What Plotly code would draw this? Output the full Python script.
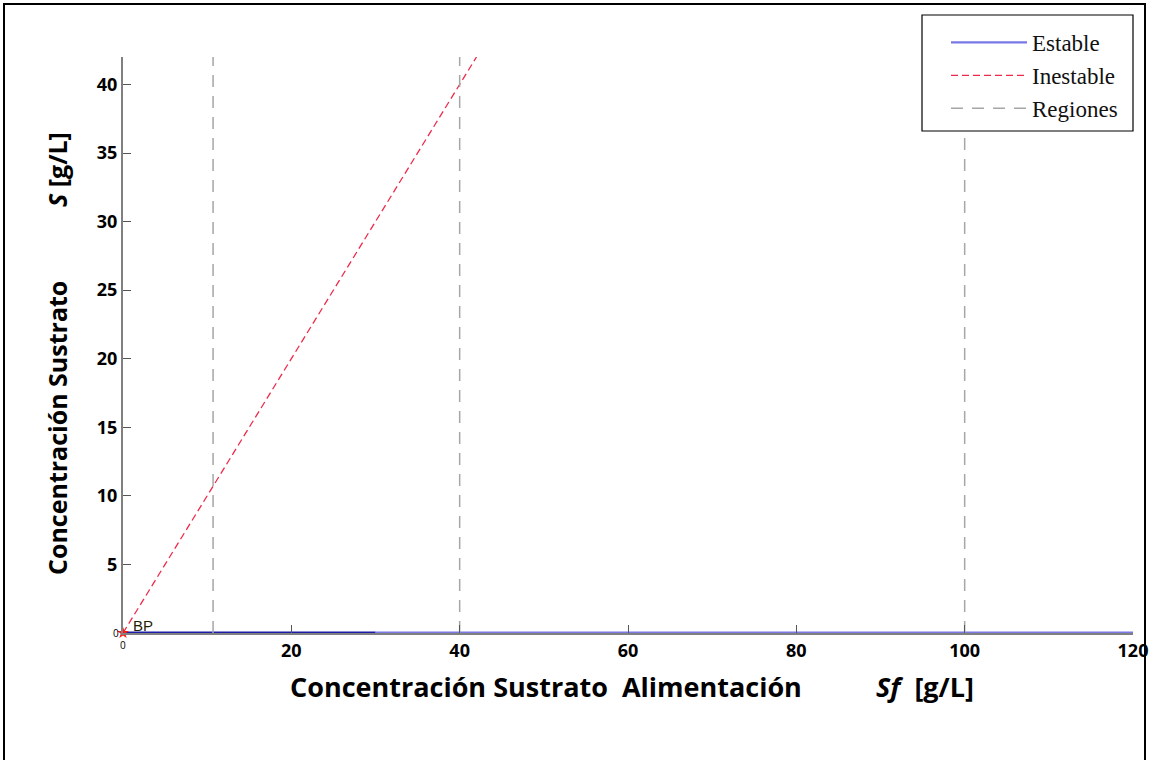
import plotly.graph_objects as go

# ---- data ----
sf_estable_a = [0, 30]
s_estable_a = [0.03, 0.03]
sf_estable_b = [30, 120]
s_estable_b = [0.03, 0.03]
sf_inestable = [0, 42]
s_inestable = [0, 42]
regiones_x = [10.7, 40, 100]
region_y = [0, 42]
bp_x = [0]
bp_y = [0]
x_ticks = [20, 40, 60, 80, 100, 120]
y_ticks = [5, 10, 15, 20, 25, 30, 35, 40]

W, H = 1152, 760
L, R, T = 123, 1133, 57
B = 633
PW, PH = R - L, B - T


def px(xp):
    return (xp - L) / PW


def py(yp):
    return (B - yp) / PH


fig = go.Figure()

rx, ry = [], []
for v in regiones_x:
    rx += [v, v, None]
    ry += [region_y[0], region_y[1], None]
fig.add_trace(go.Scatter(x=sf_estable_b, y=s_estable_b, mode="lines", name="Estable",
                         legendgroup="a",
                         line=dict(color="#7878e6", width=2.2)))
fig.add_trace(go.Scatter(x=sf_estable_a, y=s_estable_a, mode="lines", name="Estable",
                         legendgroup="a",
                         line=dict(color="#1c1ca8", width=2.2), showlegend=False))
fig.add_trace(go.Scatter(x=sf_inestable, y=s_inestable, mode="lines", name="Inestable",
                         legendgroup="b",
                         line=dict(color="#ee2a4a", width=1.3, dash="7px,4px")))
fig.add_trace(go.Scatter(x=rx, y=ry, mode="lines", name="Regiones", legendgroup="c",
                         line=dict(color="#a6a6a6", width=1.5, dash="12px,9px")))
fig.add_trace(go.Scatter(x=bp_x, y=bp_y, mode="markers",
                         marker=dict(symbol="star", size=9, color="#ff1a1a"),
                         showlegend=False, cliponaxis=False))

tickfont = dict(family="Open Sans", size=18, color="black", weight="bold")
fig.update_xaxes(range=[0, 120], tickvals=x_ticks, ticktext=[str(v) for v in x_ticks],
                 ticks="inside", ticklen=8, tickcolor="#555555", tickwidth=1,
                 showline=True, linecolor="#808080", linewidth=2, automargin=False,
                 showgrid=False, zeroline=False, tickfont=tickfont)
fig.update_yaxes(range=[0, 42], tickvals=y_ticks, ticktext=[str(v) for v in y_ticks],
                 ticks="inside", ticklen=8, tickcolor="#555555", tickwidth=1,
                 showline=True, linecolor="#808080", linewidth=2, automargin=False,
                 showgrid=False, zeroline=False, tickfont=tickfont)

xtitlefont = dict(family="Open Sans", size=27, color="black", weight="bold")
ytitlefont = dict(family="Open Sans", size=25, color="black", weight="bold")
annotations = [
    dict(x=px(546), y=py(686), text="Concentración Sustrato  Alimentación", font=xtitlefont),
    dict(x=px(925), y=py(686), text="<i>Sf</i>  [g/L]", font=xtitlefont),
    dict(x=px(57), y=py(428), text="Concentración Sustrato", textangle=-90, font=ytitlefont),
    dict(x=px(57), y=py(170), text="<i>S</i> [g/L]", textangle=-90, font=ytitlefont),
]
for a in annotations:
    a.update(xref="paper", yref="paper", showarrow=False,
             xanchor="center", yanchor="middle")
small = dict(family="Open Sans", size=10, color="black")
annotations += [
    dict(x=0, y=py(645), xref="paper", yref="paper", text="0", showarrow=False,
         font=small, xanchor="center", yanchor="middle"),
    dict(x=px(116), y=0, xref="paper", yref="paper", text="0", showarrow=False,
         font=small, xanchor="center", yanchor="middle"),
    dict(x=bp_x[0], y=bp_y[0], xref="x", yref="y", text="BP", showarrow=False,
         font=dict(family="Liberation Sans", size=15, color="#1e1e00"),
         xanchor="left", yanchor="bottom", xshift=8, yshift=-3),
]

fig.update_layout(
    width=W, height=H,
    margin=dict(l=L, r=W - R, t=T, b=H - B, autoexpand=False),
    paper_bgcolor="white", plot_bgcolor="white",
    annotations=annotations,
    legend=dict(x=px(946), y=py(21), xanchor="left", yanchor="top",
                bgcolor="rgba(0,0,0,0)", borderwidth=0,
                font=dict(family="Liberation Serif", size=23, color="#111111"),
                traceorder="grouped", itemwidth=76, tracegroupgap=0),
    shapes=[
        dict(type="rect", xref="paper", yref="paper",
             x0=px(4), x1=px(1145), y0=py(800), y1=py(4),
             line=dict(color="black", width=2), fillcolor="rgba(0,0,0,0)", layer="below"),
        dict(type="rect", xref="paper", yref="paper",
             x0=px(922), x1=px(1133), y0=py(131), y1=py(15),
             line=dict(color="black", width=1.2), fillcolor="white", layer="above"),
    ],
    showlegend=True,
)

fig.write_html("out.html")
